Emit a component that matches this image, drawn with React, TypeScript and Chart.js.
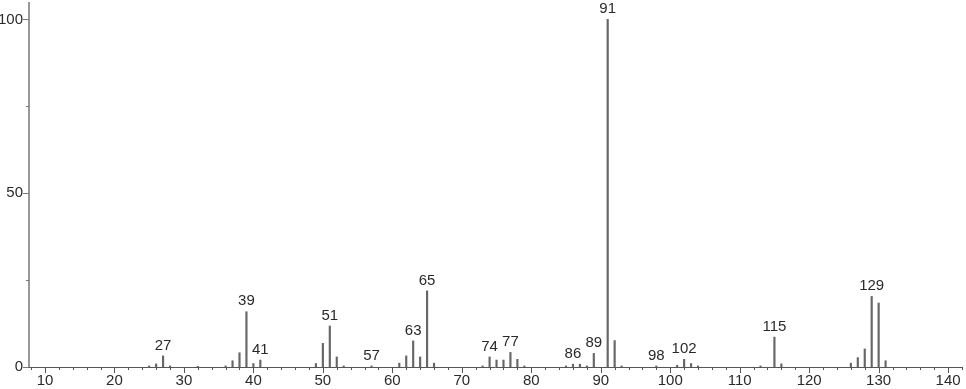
import React, { useEffect, useRef } from "react";
import { Chart, registerables } from "chart.js";
Chart.register(...registerables);

const masses = [25, 26, 27, 28, 32, 36, 37, 38, 39, 40, 41, 49, 50, 51, 52, 53, 57, 61, 62, 63, 64, 65, 66, 73, 74, 75, 76, 77, 78, 79, 85, 86, 87, 88, 89, 91, 92, 93, 98, 101, 102, 103, 104, 113, 115, 116, 126, 127, 128, 129, 130, 131];
const intensities = [0.3, 0.9, 3.2, 0.3, 0.2, 0.3, 1.8, 4.1, 15.9, 1.0, 2.0, 1.0, 6.8, 11.8, 2.9, 0.3, 0.3, 1.1, 3.2, 7.5, 2.9, 21.9, 1.1, 0.3, 2.9, 2.0, 2.0, 4.2, 2.2, 0.3, 0.3, 0.8, 0.8, 0.3, 3.9, 100, 7.6, 0.3, 0.3, 0.5, 2.2, 1.0, 0.3, 0.3, 8.6, 0.9, 1.1, 2.7, 5.2, 20.3, 18.4, 1.8];
const labeledMasses = [27, 39, 41, 51, 57, 63, 65, 74, 77, 86, 89, 91, 98, 102, 115, 129];
const xMajorTicks = [10, 20, 30, 40, 50, 60, 70, 80, 90, 100, 110, 120, 130, 140];
const yMajorTicks = [0, 50, 100];
const yMinorTicks = [25, 75];

const FONT = '15px "Liberation Sans", "DejaVu Sans", sans-serif';

const overlayPlugin = {
  id: "overlay",
  afterDraw(chart: any) {
    const ctx = chart.ctx;
    const xs = chart.scales.x;
    const ys = chart.scales.y;
    const area = chart.chartArea;
    ctx.save();
    // axes lines
    ctx.strokeStyle = "#999";
    ctx.lineWidth = 2;
    ctx.beginPath();
    ctx.moveTo(area.left, area.top);
    ctx.lineTo(area.left, area.bottom);
    ctx.stroke();
    ctx.strokeStyle = "#555";
    ctx.lineWidth = 1;
    ctx.beginPath();
    ctx.moveTo(area.left, area.bottom + 0.5);
    ctx.lineTo(area.right, area.bottom + 0.5);
    ctx.stroke();

    ctx.font = FONT;
    ctx.fillStyle = "#2a2a2a";
    // x ticks
    ctx.strokeStyle = "#555";
    ctx.lineWidth = 1;
    for (let v = 8; v <= 142; v += 2) {
      const px = Math.round(xs.getPixelForValue(v)) + 0.5;
      const major = v % 10 === 0;
      ctx.beginPath();
      ctx.moveTo(px, area.bottom);
      ctx.lineTo(px, area.bottom + (major ? 6 : 3));
      ctx.stroke();
    }
    ctx.textAlign = "center";
    ctx.textBaseline = "top";
    xMajorTicks.forEach((v) => {
      ctx.fillText(String(v), xs.getPixelForValue(v), area.bottom + 6);
    });
    // y ticks
    ctx.strokeStyle = "#777";
    [...yMajorTicks, ...yMinorTicks].forEach((v) => {
      const py = Math.round(ys.getPixelForValue(v)) + 0.5;
      const major = yMajorTicks.includes(v);
      ctx.beginPath();
      ctx.moveTo(area.left - (major ? 6 : 3), py);
      ctx.lineTo(area.left, py);
      ctx.stroke();
    });
    ctx.textAlign = "right";
    ctx.textBaseline = "middle";
    yMajorTicks.forEach((v) => {
      ctx.fillText(String(v), area.left - 6, ys.getPixelForValue(v));
    });
    // peak labels
    ctx.textAlign = "center";
    ctx.textBaseline = "bottom";
    labeledMasses.forEach((m) => {
      const i = masses.indexOf(m);
      if (i < 0) return;
      const px = xs.getPixelForValue(m);
      const py = ys.getPixelForValue(intensities[i]);
      ctx.fillText(String(m), px, py - 3);
    });
    ctx.restore();
  },
};

export default function App() {
  const ref = useRef<HTMLCanvasElement>(null);
  useEffect(() => {
    document.body.style.margin = "0";
    const chart = new Chart(ref.current as HTMLCanvasElement, {
      type: "bar",
      data: {
        datasets: [
          {
            data: masses.map((m, i) => ({ x: m, y: intensities[i] })),
            backgroundColor: "#666",
            barThickness: 1.5,
            borderWidth: 0,
          },
        ],
      },
      options: {
        animation: false,
        responsive: true,
        maintainAspectRatio: false,
        layout: { padding: { left: 29, top: 2, right: 4, bottom: 22 } },
        plugins: { legend: { display: false }, tooltip: { enabled: false } },
        scales: {
          x: { type: "linear", min: 7.7, max: 142, offset: false, display: false },
          y: { type: "linear", min: 0, max: 105, display: false },
        },
      },
      plugins: [overlayPlugin],
    } as any);
    return () => chart.destroy();
  }, []);
  return (
    <div style={{ position: "absolute", left: 0, top: 0, width: 966, height: 389 }}>
      <canvas ref={ref} />
    </div>
  );
}
